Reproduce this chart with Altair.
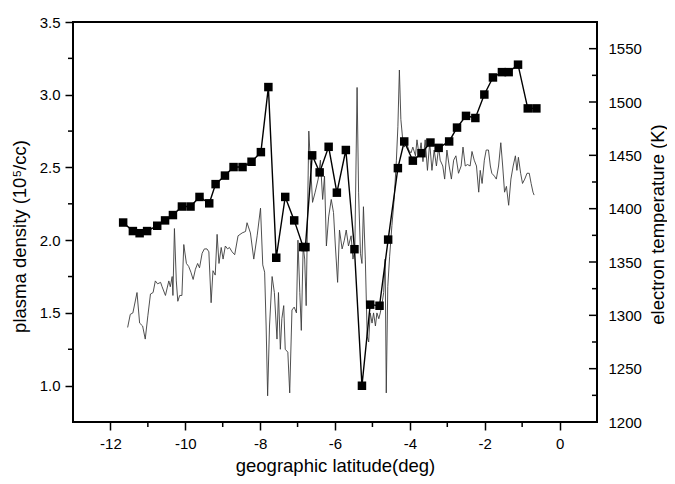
import altair as alt
import pandas as pd

# ---- data ----
sq_lat = [-11.66, -11.40, -11.22, -11.02, -10.75, -10.54, -10.33, -10.09, -9.86, -9.62,
          -9.36, -9.19, -8.94, -8.71, -8.47, -8.23, -7.98, -7.78, -7.57, -7.33,
          -7.09, -6.85, -6.79, -6.61, -6.41, -6.17, -5.95, -5.71, -5.48, -5.28,
          -5.06, -4.81, -4.58, -4.32, -4.15, -3.92, -3.69, -3.45, -3.23, -2.95,
          -2.74, -2.50, -2.25, -2.01, -1.78, -1.54, -1.36, -1.11, -0.85, -0.62]
sq_temp = [1387, 1379, 1377, 1379, 1384, 1389, 1394, 1402, 1402, 1411,
           1405, 1423, 1431, 1439, 1439, 1444, 1453, 1514, 1354, 1411,
           1389, 1364, 1364, 1450, 1434, 1458, 1415, 1455, 1362, 1234,
           1310, 1309, 1371, 1438, 1463, 1445, 1452, 1462, 1457, 1463,
           1476, 1487, 1485, 1507, 1523, 1528, 1528, 1535, 1494, 1494]

dens_lat = [-11.54, -11.47, -11.40, -11.29, -11.22, -11.14, -11.07, -11.00, -10.93, -10.86,
            -10.80, -10.74, -10.66, -10.62, -10.53, -10.44, -10.40, -10.35, -10.33, -10.29,
            -10.24, -10.20, -10.15, -10.09, -10.04, -9.97, -9.91, -9.85, -9.79, -9.73,
            -9.67, -9.62, -9.55, -9.49, -9.42, -9.37, -9.31, -9.26, -9.20, -9.15,
            -9.10, -9.04, -8.99, -8.93, -8.87,
            -8.82, -8.75, -8.68, -8.59, -8.48, -8.39, -8.35, -8.26, -8.17, -8.08,
            -7.99, -7.93, -7.88, -7.84, -7.80, -7.75, -7.68, -7.62, -7.55, -7.51,
            -7.46, -7.42, -7.37, -7.33, -7.26, -7.21, -7.15, -7.09, -7.03, -6.99,
            -6.94, -6.90, -6.85, -6.81, -6.77, -6.70, -6.66, -6.60, -6.53, -6.45,
            -6.39, -6.33, -6.28, -6.23, -6.17, -6.10, -6.04,
            -5.99, -5.93, -5.88, -5.81, -5.75, -5.70, -5.64, -5.57, -5.52, -5.47,
            -5.41, -5.37, -5.32, -5.28, -5.24, -5.19, -5.14, -5.10, -5.06, -5.01,
            -4.97, -4.92, -4.88, -4.83, -4.79, -4.74, -4.70, -4.66, -4.63, -4.59,
            -4.54, -4.48, -4.42, -4.36, -4.32, -4.28, -4.24, -4.19, -4.15, -4.09,
            -4.03, -3.97, -3.92, -3.85, -3.81, -3.75, -3.70, -3.65, -3.59, -3.53,
            -3.47, -3.41, -3.35, -3.29, -3.23,
            -3.19, -3.12, -3.07, -3.01, -2.95, -2.89, -2.83, -2.77, -2.70, -2.63,
            -2.58, -2.52, -2.46, -2.39, -2.34, -2.28, -2.22, -2.16, -2.12, -2.07,
            -2.01, -1.96, -1.90, -1.85, -1.81, -1.74, -1.69, -1.63, -1.57, -1.52,
            -1.47, -1.42, -1.36, -1.30, -1.24, -1.18, -1.14, -1.10, -1.04, -0.99,
            -0.93, -0.87, -0.81, -0.76, -0.71, -0.68]
dens_val = [1.40, 1.49, 1.50, 1.64, 1.43, 1.41, 1.32, 1.48, 1.63, 1.64,
            1.72, 1.70, 1.71, 1.68, 1.62, 1.72, 1.68, 1.75, 1.62, 2.08,
            1.72, 1.58, 1.62, 1.62, 1.97, 1.84, 1.82, 1.78, 1.73, 1.80,
            1.84, 1.81, 1.91, 1.94, 1.94, 1.92, 1.57, 1.79, 1.76, 2.04,
            1.84, 1.95, 1.87, 1.96, 1.94,
            1.95, 1.92, 1.90, 2.03, 2.05, 2.06, 2.12, 2.05, 1.87, 2.03,
            2.22, 1.83, 1.78, 1.41, 0.93, 1.41, 1.75, 1.64, 1.32, 1.64,
            1.25, 1.46, 1.55, 1.25, 1.23, 0.95, 1.52, 1.54, 1.50, 2.00,
            1.64, 1.38, 1.96, 1.87, 1.55, 2.75, 2.55, 2.26, 2.33, 2.42,
            2.55, 2.28, 2.44, 1.96, 2.16, 2.28, 2.19,
            1.96, 1.71, 2.07, 1.94, 2.00, 2.07, 1.96, 2.03, 1.87, 1.94,
            3.05, 2.33, 1.91, 1.84, 2.23, 1.87, 1.34, 1.30, 1.50, 1.43,
            1.50, 1.41, 1.50, 1.46, 1.50, 1.57, 1.64, 1.87, 0.95, 1.68,
            1.89, 2.10, 2.28, 2.55, 2.78, 3.17, 2.83, 2.69, 2.64, 2.67,
            2.62, 2.60, 2.64, 2.58, 2.69, 2.58, 2.67, 2.54, 2.69, 2.48,
            2.67, 2.48, 2.62, 2.51, 2.64,
            2.55, 2.51, 2.42, 2.62, 2.51, 2.42, 2.55, 2.58, 2.46, 2.51,
            2.64, 2.51, 2.52, 2.51, 2.61, 2.55, 2.51, 2.33, 2.48, 2.39,
            2.55, 2.62, 2.62, 2.51, 2.46, 2.44, 2.42, 2.51, 2.67, 2.51,
            2.33, 2.37, 2.24, 2.42, 2.51, 2.58, 2.48, 2.57, 2.46, 2.39,
            2.42, 2.46, 2.46, 2.39, 2.33, 2.31]

lat_major = [-12, -10, -8, -6, -4, -2, 0]
lat_minor = [-11, -9, -7, -5, -3, -1]
dens_major = [1.0, 1.5, 2.0, 2.5, 3.0, 3.5]
dens_minor = [1.25, 1.75, 2.25, 2.75, 3.25]
temp_labels = [1200, 1250, 1300, 1350, 1400, 1450, 1500, 1550]
temp_major = [1250, 1300, 1350, 1400, 1450, 1500, 1550]
temp_minor = [1225, 1275, 1325, 1375, 1425, 1475, 1525]

# ---- layout / style ----
W, H = 524, 400
FONT = "Liberation Sans"

xscale = alt.Scale(domain=[-13, 1], nice=False, zero=False)
dscale = alt.Scale(domain=[0.75, 3.5], nice=False, zero=False)
tscale = alt.Scale(domain=[1200, 1575], nice=False, zero=False)

dens_df = pd.DataFrame({"lat": dens_lat, "dens": dens_val})
sq_df = pd.DataFrame({"lat": sq_lat, "temp": sq_temp})

x_axis = alt.Axis(values=lat_major, title="geographic latitude(deg)",
                  labelExpr="'' + datum.value", tickSize=8, tickWidth=1.5,
                  labelPadding=6, titleY=49, titleBaseline="alphabetic",
                  domain=False, grid=False)


def xenc(field):
    return alt.X(field, scale=xscale, axis=x_axis)


density = alt.Chart(dens_df).mark_line(color="#3c3c3c", strokeWidth=0.9).encode(
    x=xenc("lat:Q"),
    y=alt.Y("dens:Q", scale=dscale,
            axis=alt.Axis(orient="left", values=dens_major, format=".1f",
                          title="plasma density (10⁵/cc)", tickSize=8, tickWidth=1.5,
                          labelPadding=5, titleX=-48, titleY=214, titleAngle=270,
                          titleBaseline="alphabetic", domain=False, grid=False)),
)

left_minor = alt.Chart(pd.DataFrame({"v": dens_minor})).mark_rule(
    color="black", strokeWidth=1.5).encode(
    y=alt.Y("v:Q", scale=dscale, axis=None),
    x=alt.value(-5), x2=alt.value(0),
)

x_minor = alt.Chart(pd.DataFrame({"lat": lat_minor})).mark_rule(
    color="black", strokeWidth=1.5).encode(
    x=xenc("lat:Q"),
    y=alt.value(H), y2=alt.value(H + 5),
)

temp_line = alt.Chart(sq_df).mark_line(color="black", strokeWidth=1.4).encode(
    x=xenc("lat:Q"),
    y=alt.Y("temp:Q", scale=tscale,
            axis=alt.Axis(orient="right", values=temp_labels, format="d",
                          title="electron temperature (K)", ticks=False,
                          labelPadding=11, titleX=66, titleY=202, titleAngle=270,
                          titleBaseline="alphabetic", domain=False, grid=False)),
)
temp_pts = alt.Chart(sq_df).mark_square(size=72, color="black", opacity=1).encode(
    x=xenc("lat:Q"),
    y=alt.Y("temp:Q", scale=tscale, axis=None),
)

right_major = alt.Chart(pd.DataFrame({"t": temp_major})).mark_rule(
    color="black", strokeWidth=1.5).encode(
    y=alt.Y("t:Q", scale=tscale, axis=None),
    x=alt.value(W - 8), x2=alt.value(W),
)
right_minor = alt.Chart(pd.DataFrame({"t": temp_minor})).mark_rule(
    color="black", strokeWidth=1.5).encode(
    y=alt.Y("t:Q", scale=tscale, axis=None),
    x=alt.value(W - 5), x2=alt.value(W),
)

chart = alt.layer(
    density, left_minor, x_minor, temp_line, temp_pts, right_major, right_minor
).resolve_scale(y="independent").properties(
    width=W, height=H,
    padding={"left": 65, "top": 14, "right": 70, "bottom": 54},
    autosize=alt.AutoSizeParams(type="none"),
    background="white",
).configure_view(
    stroke="black", strokeWidth=2,
).configure_axis(
    labelFont=FONT, labelFontSize=15, titleFont=FONT, titleFontSize=18.5,
    titleFontWeight="normal", labelColor="black", titleColor="black",
    tickColor="black",
)

chart.save("out.html", embed_options={"renderer": "svg", "actions": False})
